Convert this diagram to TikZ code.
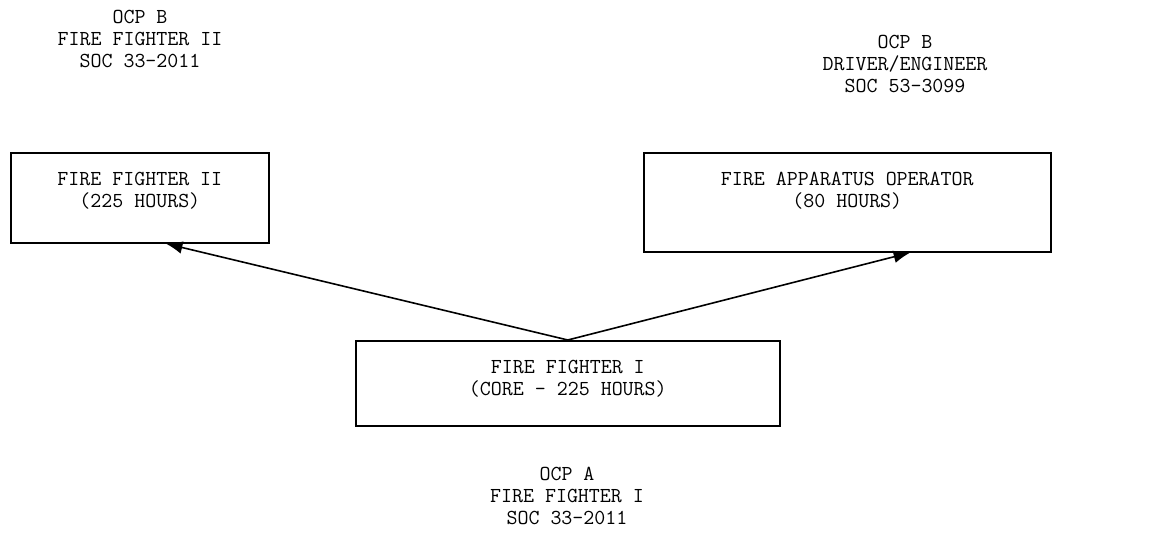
\documentclass[tikz,border=0pt]{standalone}
\usetikzlibrary{arrows.meta,positioning}
\newlength\px
\setlength\px{0.75pt}
\tikzset{
  boxed/.style={draw, rectangle, inner sep=0pt},
  caption/.style={font=\ttfamily\fontsize{16}{16.5}\selectfont, align=center, inner sep=0pt},
}
\begin{document}
\begin{tikzpicture}[x=0.75pt, y=-0.75pt, line width=1.2pt, >={Latex[length=12.5pt, width=9.5pt]}]
    \useasboundingbox (0,0) rectangle (1150,535);
    % occupation labels
    \node[caption, anchor=north] (ocpff2) at (140,9) {OCP B\\FIRE FIGHTER II\\SOC 33-2011};
    \node[caption, anchor=north] (ocpfao) at (905,34) {OCP B\\DRIVER/ENGINEER\\SOC 53-3099};
    \node[caption, anchor=north] (ocpff1) at (567,466) {OCP A\\FIRE FIGHTER I\\SOC 33-2011};
    % course boxes
    \node[boxed, anchor=north west, minimum width=258\px, minimum height=90\px] (ff2) at (10,152) {};
    \node[caption, anchor=north, yshift=-19\px] (ff2text) at (ff2.north) {FIRE FIGHTER II\\(225 HOURS)};
    \node[boxed, anchor=north west, minimum width=407\px, minimum height=99\px] (fao) at (643,152) {};
    \node[caption, anchor=north, yshift=-19\px] (faotext) at (fao.north) {FIRE APPARATUS OPERATOR\\(80 HOURS)};
    \node[boxed, anchor=north west, minimum width=424\px, minimum height=85\px] (ff1) at (355,340) {};
    \node[caption, anchor=north, yshift=-19\px] (ff1text) at (ff1.north) {FIRE FIGHTER I\\(CORE - 225 HOURS)};
    % progression
    \draw[->] (ff1.north) -- ([xshift=26\px]ff2.south);
    \draw[->] (ff1.north) -- ([xshift=63\px]fao.south);
\end{tikzpicture}
\end{document}
